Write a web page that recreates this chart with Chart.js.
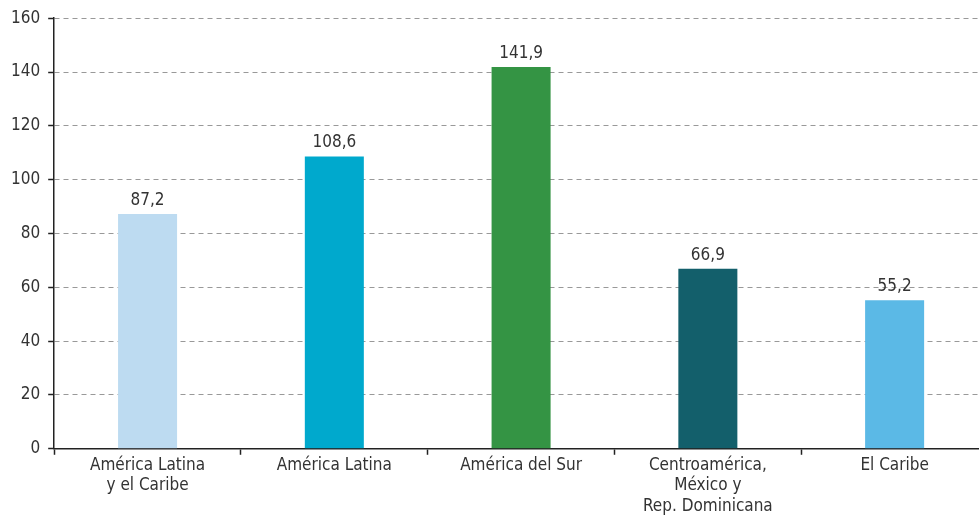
<!DOCTYPE html>
<html>
<head>
<meta charset="utf-8">
<script src="https://cdn.jsdelivr.net/npm/chart.js@4/dist/chart.umd.min.js"></script>
<style>
  html, body { margin: 0; padding: 0; background: #fff; overflow: hidden; }
  #wrap { width: 988px; height: 517px; }
</style>
</head>
<body>
<div id="wrap"><canvas id="chart" width="988" height="517"></canvas></div>
<script>
const categories = [
    ["América Latina", "y el Caribe"],
    "América Latina",
    "América del Sur",
    ["Centroamérica,", "México y", "Rep. Dominicana"],
    "El Caribe"
];
const values = [87.2, 108.6, 141.9, 66.9, 55.2];
const barColors = ["#bddbf1", "#00a9cd", "#349444", "#135f6b", "#5bb9e6"];
const yTicks = [0, 20, 40, 60, 80, 100, 120, 140, 160];

const FONT = "'Liberation Sans Narrow', 'DejaVu Sans Condensed', sans-serif";

// etiquetas de valores encima de las barras
const valueLabels = {
    id: "valueLabels",
    afterDatasetsDraw(chart) {
        const ctx = chart.ctx;
        const meta = chart.getDatasetMeta(0);
        ctx.save();
        ctx.font = "17px " + FONT;
        ctx.fillStyle = "#333";
        ctx.textAlign = "center";
        ctx.textBaseline = "bottom";
        meta.data.forEach((bar, i) => {
            ctx.fillText(values[i].toFixed(1).replace(".", ","), bar.x, bar.y - 5);
        });
        ctx.restore();
    }
};

const ctx = document.getElementById("chart").getContext("2d");
new Chart(ctx, {
    type: "bar",
    data: {
        labels: categories,
        datasets: [{
            data: values,
            backgroundColor: barColors,
            barPercentage: 0.316,
            categoryPercentage: 1
        }]
    },
    options: {
        responsive: false,
        animation: false,
        layout: { padding: { top: 13, right: 0, left: 3, bottom: 0 } },
        plugins: {
            legend: { display: false },
            tooltip: { enabled: false }
        },
        scales: {
            x: {
                grid: {
                    offset: true,
                    drawOnChartArea: false,
                    drawTicks: true,
                    tickLength: 6,
                    tickColor: "#222",
                    tickWidth: 1.5
                },
                border: { display: true, color: "#222", width: 1.5 },
                ticks: {
                    color: "#333",
                    font: { family: FONT, size: 17, lineHeight: 1.22 },
                    maxRotation: 0,
                    autoSkip: false,
                    padding: 0
                }
            },
            y: {
                min: 0,
                max: 160,
                afterBuildTicks(axis) {
                    axis.ticks = yTicks.map(v => ({ value: v }));
                },
                grid: {
                    color: "#999",
                    lineWidth: 1,
                    tickLength: 6,
                    tickColor: "#222",
                    tickWidth: 1.5
                },
                border: { display: true, color: "#222", width: 1.5, dash: [5, 4] },
                ticks: {
                    color: "#333",
                    font: { family: FONT, size: 17 },
                    padding: 8
                }
            }
        }
    },
    plugins: [valueLabels]
});
</script>
</body>
</html>
